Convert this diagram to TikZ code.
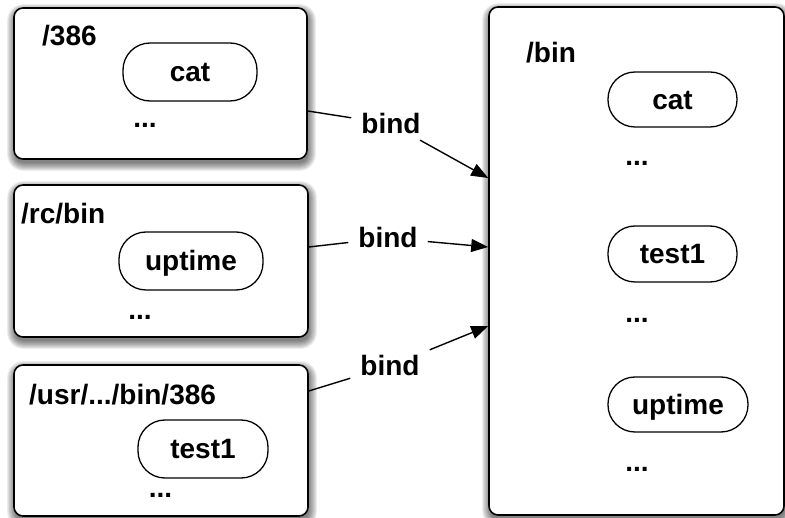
\documentclass[tikz,border=0pt]{standalone}
\usepackage{fontspec}
\setmainfont{Liberation Sans}
\usetikzlibrary{calc,backgrounds,arrows.meta}
\begin{document}
\begin{tikzpicture}[x=1pt,y=-1pt,
  every node/.style={font=\bfseries\fontsize{28}{33}\selectfont},
  box/.style={draw, line width=1.6pt, rounded corners=9pt, fill=white, inner sep=0pt},
  pill/.style={draw, line width=1.3pt, rounded corners=27pt, text height=20pt, text depth=0pt, inner sep=0pt, fill=white},
  lbl/.style={anchor=base west, inner sep=0pt},
  dots/.style={anchor=base, inner sep=0pt},
  bindlbl/.style={inner xsep=10pt, inner ysep=6pt, text height=20pt, text depth=0pt},
  conn/.style={line width=1.4pt},
  arr/.style={conn, -{Triangle[length=17pt,width=13pt]}}
]
\useasboundingbox (0,0) rectangle (785,518);

% boxes
\node[box, minimum width=293pt, minimum height=151pt] (b1) at (160.5,83.5) {};
\node[box, minimum width=294pt, minimum height=152pt] (b2) at (161,261) {};
\node[box, minimum width=294pt, minimum height=151pt] (b3) at (161,440.5) {};
\node[box, minimum width=295pt, minimum height=508pt] (big) at (636.5,261) {};

% shadows
\begin{scope}[on background layer]
\foreach \n in {b1,b2,b3,big}{
  \foreach \i in {-1,...,7}{
    \fill[black,opacity=0.07,rounded corners={(9+\i)*1pt}]
      ($(\n.south west)+(-\i+1,\i+4)$) rectangle ($(\n.north east)+(\i+1,-\i+4)$);
  }
}
\end{scope}

% box 1
\node[lbl] (l1) at (42,46) {/386};
\node[pill, minimum width=134pt, minimum height=58pt] (p1) at (190,72) {cat};
\node[dots] (d1) at (145,128) {...};

% box 2
\node[lbl] (l2) at (21,224) {/rc/bin};
\node[pill, minimum width=144pt, minimum height=58pt] (p2) at (191,261) {uptime};
\node[dots] (d2) at (140,320) {...};

% box 3
\node[lbl] (l3) at (29,405) {/usr/.../bin/386};
\node[pill, minimum width=130pt, minimum height=58pt] (p3) at (203,449) {test1};
\node[dots] (d3) at (160.5,497) {...};

% big box
\node[lbl] (l4) at (526,63) {/bin};
\node[pill, minimum width=129pt, minimum height=55pt] (q1) at (672.5,99.5) {cat};
\node[dots] (d4) at (637,166) {...};
\node[pill, minimum width=129pt, minimum height=56pt] (q2) at (672.5,254) {test1};
\node[dots] (d5) at (637,323) {...};
\node[pill, minimum width=140pt, minimum height=55pt] (q3) at (678,404.5) {uptime};
\node[dots] (d6) at (637,472) {...};

% bind labels
\node[bindlbl] (k1) at (391,124) {bind};
\node[bindlbl] (k2) at (388,238) {bind};
\node[bindlbl] (k3) at (390,366) {bind};

\coordinate (s1) at (b1.east |- 0,111);
\coordinate (s2) at (b2.east |- 0,247);
\coordinate (s3) at (b3.east |- 0,391);
\coordinate (e1) at (big.west |- 0,178);
\coordinate (e2) at (big.west |- 0,247);
\coordinate (e3) at (big.west |- 0,326);

\draw[conn] (s1) -- (k1);
\draw[arr] (k1) -- (e1);
\draw[conn] (s2) -- (k2);
\draw[arr] (k2) -- (e2);
\draw[conn] (s3) -- (k3);
\draw[arr] (k3) -- (e3);
\end{tikzpicture}
\end{document}
